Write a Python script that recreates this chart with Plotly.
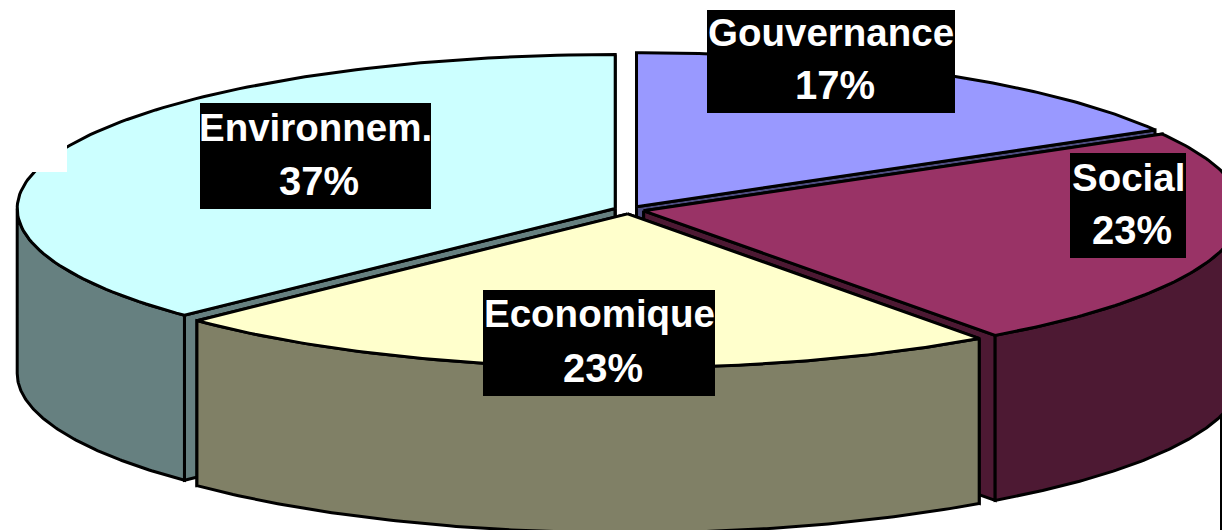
import math
import plotly.graph_objects as go

categories = ["Gouvernance", "Social", "Economique", "Environnem."]
values = [16.7, 23.3, 22.8, 37.2]
top_colors = ["#9999FF", "#993366", "#FFFFCC", "#CCFFFF"]
side_colors = ["#4D4D80", "#4D1933", "#808066", "#668080"]
draw_order = ["Gouvernance", "Environnem.", "Social", "Economique"]

CX, CY, A, B, DEPTH, EXPLODE = 629, 210, 598, 154, 165, 15
label_boxes = {
    "Gouvernance": (707, 955, 10, 113, 22),
    "Social": (1070, 1186, 153, 258, 24),
    "Economique": (483, 715, 290, 396, 23),
    "Environnem.": (200, 431, 103, 209, 24),
}

total = sum(values)
spans = {}
start = 0.0
for c, v in zip(categories, values):
    spans[c] = (start, start + v / total * 360)
    start += v / total * 360


def rim(cx, cy, a0, a1, n=120):
    pts = []
    for i in range(n + 1):
        t = math.radians(a0 + (a1 - a0) * i / n)
        pts.append((cx + A * math.sin(t), cy - B * math.cos(t)))
    return pts


fig = go.Figure()


def poly(pts, fill):
    xs = [p[0] for p in pts] + [pts[0][0]]
    ys = [p[1] for p in pts] + [pts[0][1]]
    fig.add_trace(go.Scatter(x=xs, y=ys, mode="lines", fill="toself", fillcolor=fill,
                             line=dict(color="black", width=3), hoverinfo="skip", showlegend=False))


for name in draw_order:
    i = categories.index(name)
    a0, a1 = spans[name]
    mid = math.radians((a0 + a1) / 2)
    cx = CX + EXPLODE * math.sin(mid)
    cy = CY - EXPLODE * B / A * math.cos(mid)
    side = side_colors[i]
    for ang in (a0, a1):
        p = rim(cx, cy, ang, ang, 1)[0]
        poly([(cx, cy), p, (p[0], p[1] + DEPTH), (cx, cy + DEPTH)], side)
    lo, hi = max(a0, 90), min(a1, 270)
    if hi > lo:
        arc = rim(cx, cy, lo, hi)
        poly(arc + [(x, y + DEPTH) for x, y in reversed(arc)], side)
    poly([(cx, cy)] + rim(cx, cy, a0, a1), top_colors[i])

# paper artefacts of the original picture
fig.add_shape(type="rect", x0=0, x1=67, y0=0, y1=172, fillcolor="white", line_width=0, layer="above")
fig.add_shape(type="rect", x0=1222, x1=1224, y0=0, y1=530, fillcolor="white", line_width=0, layer="above")
fig.add_shape(type="line", x0=1221, x1=1221, y0=417, y1=530, line=dict(color="black", width=2), layer="above")

for c, v in zip(categories, values):
    x0, x1, y0, y1, dy = label_boxes[c]
    fig.add_shape(type="rect", x0=x0, x1=x1, y0=y0, y1=y1, fillcolor="black", line_width=0, layer="above")
    xm = (x0 + x1) / 2
    fig.add_annotation(x=xm, y=y0 + dy, text=c, showarrow=False, xanchor="center", yanchor="middle",
                       font=dict(family="Liberation Sans", size=38.5, color="white", weight="bold"))
    fig.add_annotation(x=xm + 3.5, y=y1 - 28.5, text=f"{round(v)}%", showarrow=False, xanchor="center",
                       yanchor="middle",
                       font=dict(family="Liberation Sans", size=40, color="white", weight="bold"))

fig.update_layout(
    width=1224, height=530, margin=dict(l=0, r=0, t=0, b=0),
    paper_bgcolor="white", plot_bgcolor="white", showlegend=False,
    xaxis=dict(range=[0, 1224], visible=False, fixedrange=True),
    yaxis=dict(range=[530, 0], visible=False, fixedrange=True),
)
fig.write_html("out.html", config={"displayModeBar": False},
               post_script="document.body.style.margin='0';document.body.style.overflow='hidden';")
